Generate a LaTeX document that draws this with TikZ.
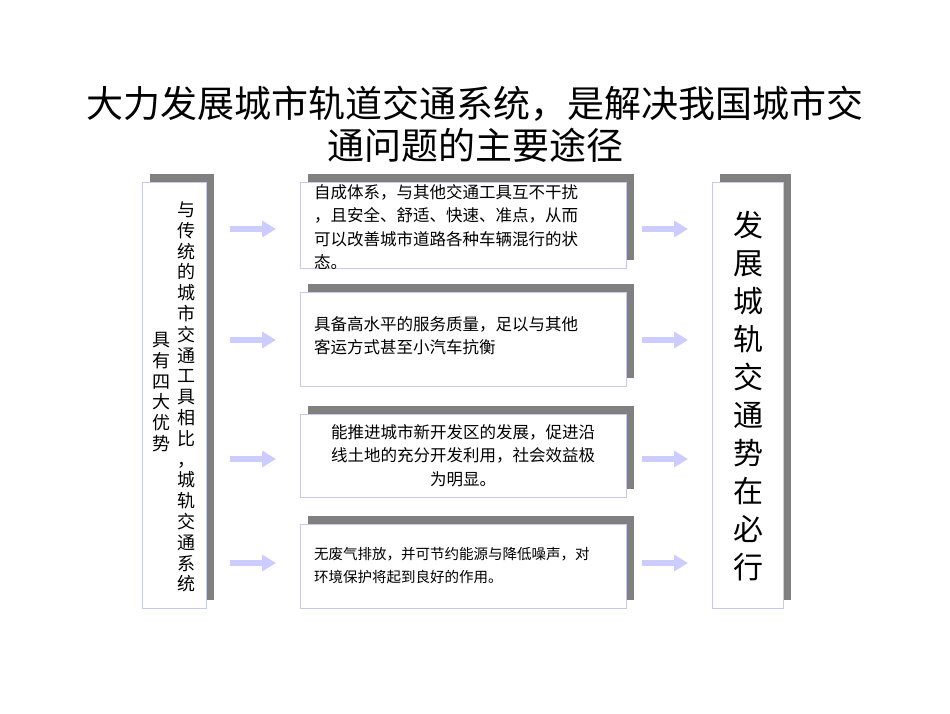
\documentclass[tikz,border=0pt]{standalone}
\usepackage{fontspec}
\setmainfont{Noto Sans CJK SC}
\usetikzlibrary{arrows.meta}
\definecolor{shad}{RGB}{128,128,128}
\definecolor{bord}{RGB}{200,200,235}
\definecolor{arr}{RGB}{204,204,255}
\tikzset{
  card/.style={draw=bord,fill=white,line width=0.8pt},
  shadowbox/.style={fill=shad},
  txt/.style={font=\fontsize{16.5}{23.5}\selectfont,anchor=north west,align=left,inner sep=0},
  flow/.style={-{Triangle[length=14pt,width=16pt]},arr,line width=6pt},
}
\newcommand{\cardbox}[5]{% name, x1,y1,x2,y2
  \fill[shadowbox] (#2+8,#3-8) rectangle (#4+8,#5-8);
  \draw[card] (#2,#3) rectangle (#4,#5);
  \coordinate (#1w) at (#2,{(#3+#5)/2});
  \coordinate (#1e) at (#4,{(#3+#5)/2});
}
\begin{document}
\begin{tikzpicture}[x=1pt,y=-1pt]
\useasboundingbox (0,0) rectangle (950,713);
\node[font=\fontsize{37}{42}\selectfont,align=center] (title) at (475,124) {大力发展城市轨道交通系统，是解决我国城市交\\通问题的主要途径};
\cardbox{L}{142}{182}{206}{608}
\cardbox{R}{712}{182}{783}{608}
\cardbox{A}{300}{182}{626}{268}
\cardbox{B}{300}{292}{626}{386}
\cardbox{C}{300}{414}{626}{497}
\cardbox{D}{300}{524}{626}{608}
\node[font=\fontsize{18}{20.8}\selectfont,align=center,inner sep=0] (lt1) at (186,397) {与\\传\\统\\的\\城\\市\\交\\通\\工\\具\\相\\比\\，\\城\\轨\\交\\通\\系\\统};
\node[font=\fontsize{18}{20.8}\selectfont,align=center,inner sep=0] (lt2) at (161,392) {具\\有\\四\\大\\优\\势};
\node[font=\fontsize{30}{38}\selectfont,align=center,inner sep=0] (rt) at (748,396) {发\\展\\城\\轨\\交\\通\\势\\在\\必\\行};
\node[txt] (ta) at (314,184) {自成体系，与其他交通工具互不干扰\\，且安全、舒适、快速、准点，从而\\可以改善城市道路各种车辆混行的状\\态。};
\node[txt] (tb) at (314,316) {具备高水平的服务质量，足以与其他\\客运方式甚至小汽车抗衡};
\node[txt,align=center,anchor=north] (tc) at (463,424) {能推进城市新开发区的发展，促进沿\\线土地的充分开发利用，社会效益极\\为明显。};
\node[txt,font=\fontsize{14.5}{23}\selectfont] (td) at (314,547) {无废气排放，并可节约能源与降低噪声，对\\环境保护将起到良好的作用。};
\foreach \y/\n in {229/a,340/b,459/c,563/d}{
  \coordinate (p1\n) at (230,\y); \coordinate (q1\n) at (276,\y);
  \coordinate (p2\n) at (642,\y); \coordinate (q2\n) at (688,\y);
  \draw[flow] (p1\n) -- (q1\n);
  \draw[flow] (p2\n) -- (q2\n);
}
\end{tikzpicture}
\end{document}
